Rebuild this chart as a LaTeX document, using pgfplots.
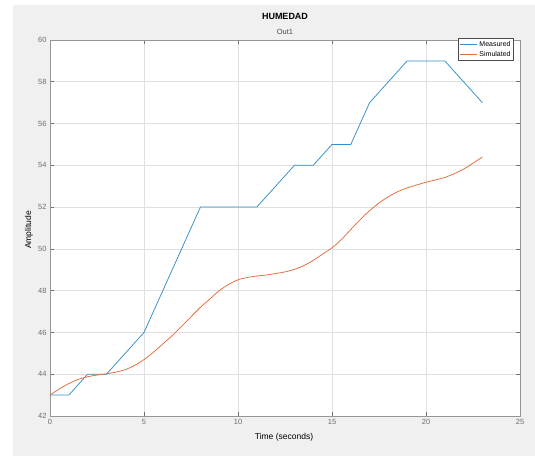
\documentclass[border=0pt]{standalone}
\usepackage{pgfplots}
\pgfplotsset{compat=1.18}
\usepackage{fontspec}
\setmainfont{Liberation Sans}
\definecolor{mblue}{rgb}{0,0.447,0.741}
\definecolor{morange}{rgb}{0.851,0.325,0.098}
\definecolor{figbg}{RGB}{240,240,240}
\definecolor{ticktext}{RGB}{110,110,110}
\definecolor{axcol}{RGB}{150,150,150}
\begin{document}
\begin{tikzpicture}[x=1pt,y=1pt]
\fill[white] (0,0) rectangle (535,456);
\fill[figbg] (13,0) rectangle (535,451);
\useasboundingbox (0,0) rectangle (535,456);
\begin{axis}[
  at={(50pt,40pt)}, anchor=south west,
  width=470pt, height=376pt, scale only axis,
  xmin=0, xmax=25, ymin=42, ymax=60,
  xtick={0,5,...,25}, ytick={42,44,...,60},
  enlargelimits=false,
  axis background/.style={fill=white},
  grid=major,
  major grid style={draw=black!12, line width=0.6pt},
  axis line style={draw=axcol, line width=0.8pt},
  tick style={draw=black!55, line width=0.6pt},
  tick align=inside,
  major tick length=4pt,
  tick label style={font=\fontsize{7.5}{8}\selectfont, text=ticktext},
  /pgf/number format/assume math mode=true,
  legend style={at={(0.987,1.005)}, anchor=north east, draw=black!70, line width=0.6pt,
    fill=white, font=\fontsize{7}{8}\selectfont, inner sep=1pt, row sep=-1pt,
    legend cell align=left},
  legend image post style={line width=0.9pt},
]
\addplot[color=mblue!80!white, line width=0.75pt] coordinates {
(0,43) (1,43) (2,44) (3,44) (5,46) (8,52) (11,52) (13,54) (14,54) (15,55) (16,55) (17,57) (19,59) (21,59) (23,57)};
\addlegendentry{Measured}
\addplot[color=morange!85!white, line width=0.75pt, smooth] coordinates {
(0,43.0) (0.5,43.3) (1,43.55) (1.5,43.75) (2,43.88) (2.5,43.96) (3,44.02) (3.5,44.1) (4,44.22) (4.5,44.42) (5,44.7) (5.5,45.05) (6,45.45) (6.5,45.85) (7,46.3) (7.5,46.75) (8,47.2) (8.5,47.6) (9,48.0) (9.5,48.3) (10,48.52) (10.5,48.63) (11,48.7) (11.5,48.75) (12,48.82) (12.5,48.9) (13,49.02) (13.5,49.2) (14,49.45) (14.5,49.75) (15,50.05) (15.5,50.45) (16,50.93) (16.5,51.4) (17,51.83) (17.5,52.2) (18,52.5) (18.5,52.74) (19,52.92) (19.5,53.06) (20,53.19) (20.5,53.3) (21,53.42) (21.5,53.6) (22,53.82) (22.5,54.1) (23,54.4)};
\addlegendentry{Simulated}
\end{axis}
\node[font=\fontsize{9}{10}\selectfont\bfseries] at (285,440) {HUMEDAD};
\node[font=\fontsize{7.5}{8}\selectfont, text=black!70] at (285,424.5) {Out1};
\node[font=\fontsize{8.5}{9}\selectfont] at (284,18.7) {Time (seconds)};
\node[font=\fontsize{8.5}{9}\selectfont, rotate=90] at (29,226) {Amplitude};
\end{tikzpicture}
\end{document}
